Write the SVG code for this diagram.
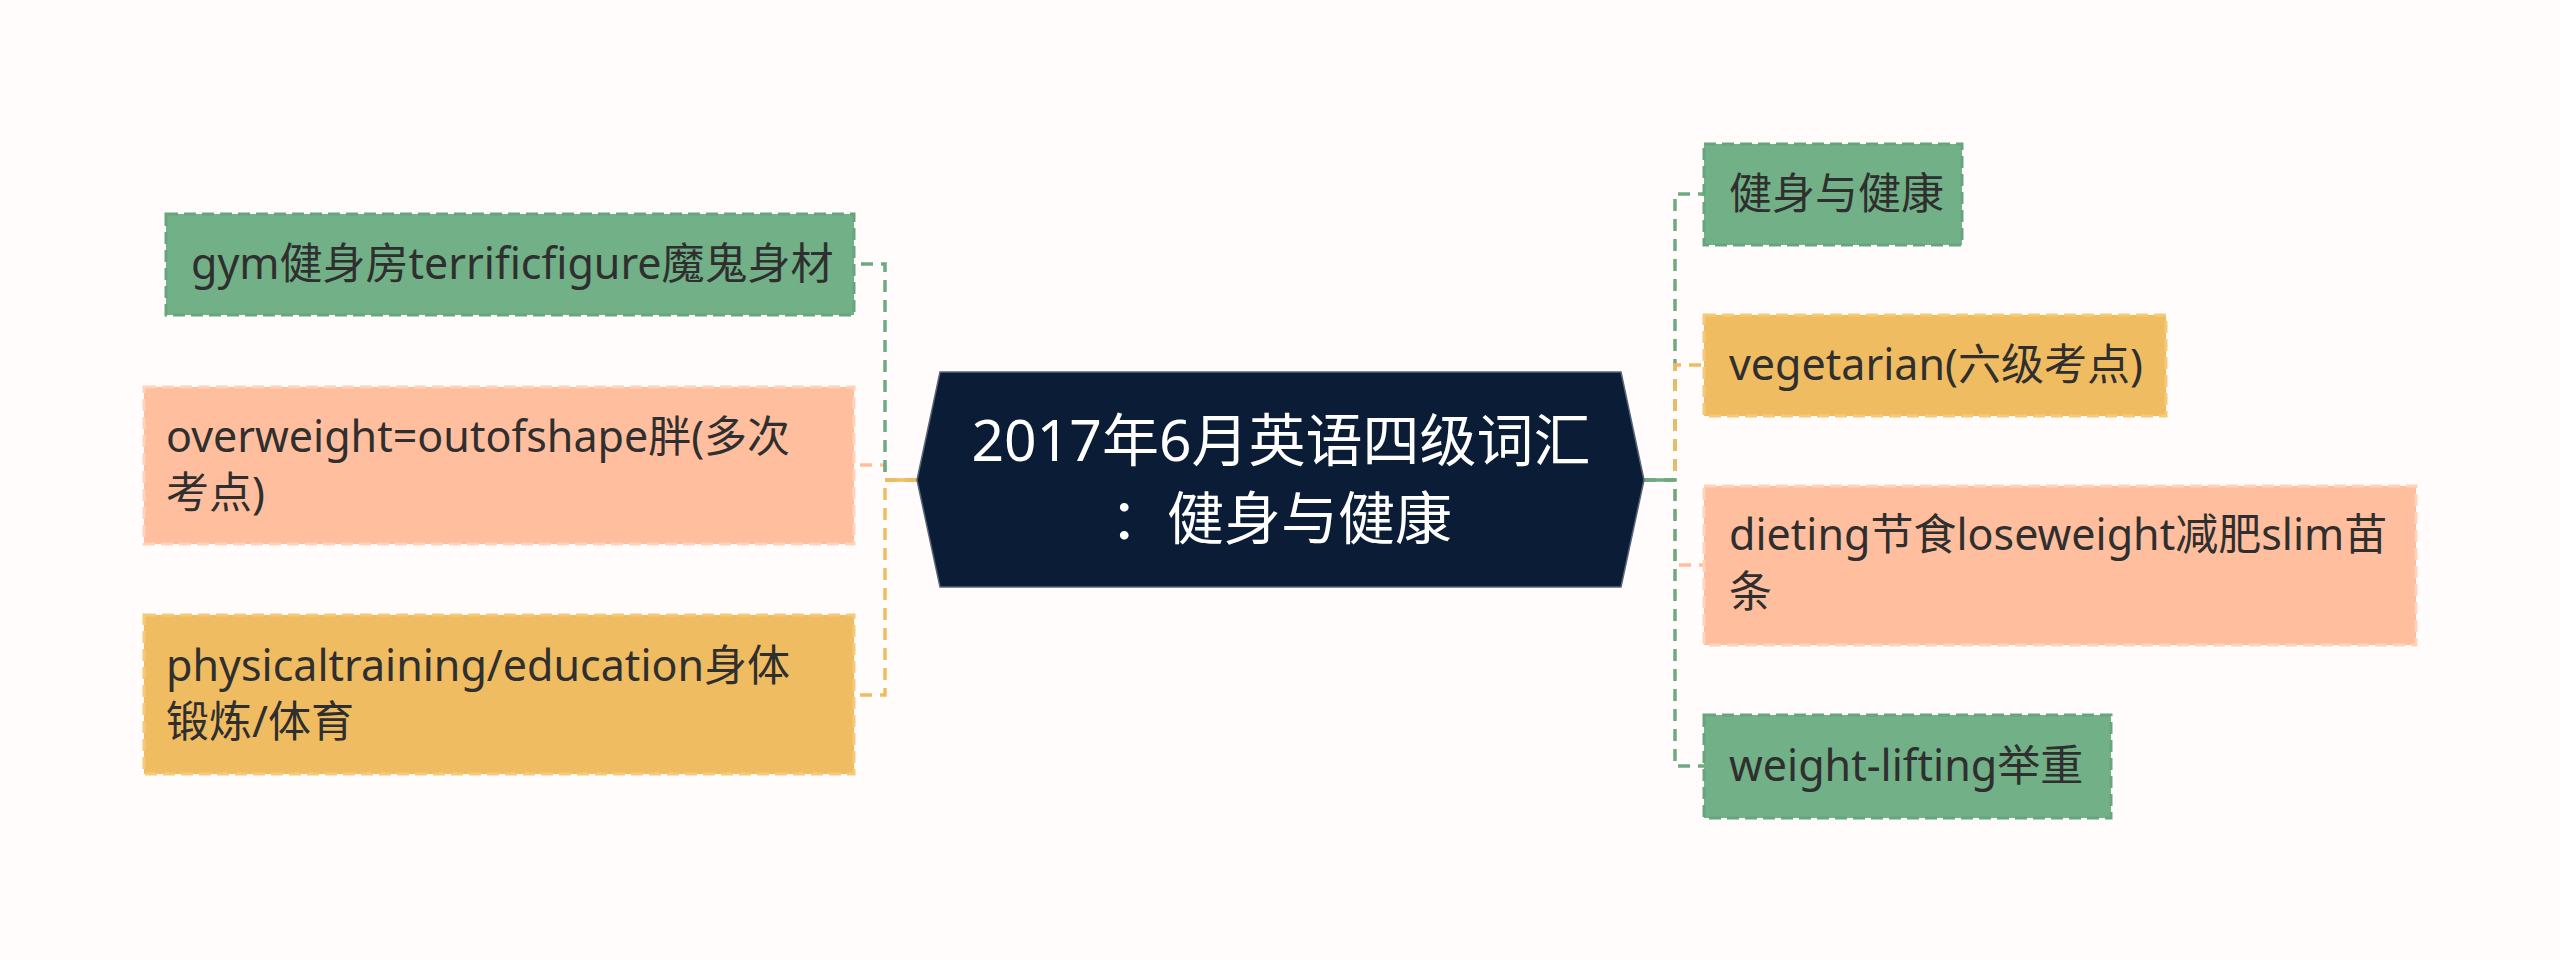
<svg xmlns="http://www.w3.org/2000/svg" width="2560" height="960" viewBox="0 0 2560 960">
<style>
.t{font-family:"Noto Sans","Noto Sans CJK SC",sans-serif;font-size:43px;fill:#2f2f2f}
.ct{font-family:"Noto Sans","Noto Sans CJK SC",sans-serif;font-size:57px;fill:#ffffff;text-anchor:middle}
.g{fill:#72B087;stroke:#67A57C;stroke-width:3;stroke-dasharray:12 6}
.s{fill:#FFBF9E;stroke:#FFD2BA;stroke-width:3;stroke-dasharray:12 6}
.o{fill:#F0BC62;stroke:#F5C979;stroke-width:3;stroke-dasharray:12 6}
.c{fill:none;stroke-width:3.5;stroke-dasharray:12 8}
.cg{stroke:#6DAA82}.cs{stroke:#FFBF9E}.co{stroke:#F0BC62}
</style>
<rect x="0" y="0" width="2560" height="960" fill="#FFFCFB"/>
<g id="connectors">
<path class="c cs" d="M917,480 H885 V465 H854"/>
<path class="c cg" d="M917,480 H885 V264 H854"/>
<path class="c co" d="M917,480 H885 V695 H854"/>
<line x1="917" y1="480" x2="885" y2="480" stroke="#F0BC62" stroke-width="3.5"/>
<path class="c cg" d="M1644,480 H1675 V194 H1704"/>
<path class="c co" d="M1644,480 H1675 V365 H1704"/>
<path class="c cs" d="M1644,480 H1675 V565 H1704"/>
<path class="c cg" d="M1644,480 H1675 V766 H1704"/>
<line x1="1644" y1="480" x2="1675" y2="480" stroke="#6DAA82" stroke-width="3.5"/>
</g>
<g id="center">
<polygon points="940,372 1621,372 1644,480 1621,587 940,587 917,480" fill="#0B1D36" stroke="#5a6577" stroke-width="1.5"/>
<text class="ct" x="1281" y="461">2017年6月英语四级词汇</text>
<text class="ct" x="1281" y="539">：健身与健康</text>
</g>
<g id="node-l1">
<rect class="g" x="166" y="214" width="688" height="101"/>
<text class="t" x="191" y="279">gym健身房terrificfigure魔鬼身材</text>
</g>
<g id="node-l2">
<rect class="s" x="144" y="387" width="710" height="157"/>
<text class="t" x="166" y="452">overweight=outofshape胖(多次</text>
<text class="t" x="166" y="508">考点)</text>
</g>
<g id="node-l3">
<rect class="o" x="144" y="615" width="710" height="159"/>
<text class="t" x="166" y="681">physicaltraining/education身体</text>
<text class="t" x="166" y="737">锻炼/体育</text>
</g>
<g id="node-r1">
<rect class="g" x="1704" y="144" width="258" height="101"/>
<text class="t" x="1729" y="209">健身与健康</text>
</g>
<g id="node-r2">
<rect class="o" x="1704" y="315" width="462" height="101"/>
<text class="t" x="1729" y="380">vegetarian(六级考点)</text>
</g>
<g id="node-r3">
<rect class="s" x="1704" y="486" width="712" height="159"/>
<text class="t" x="1729" y="550">dieting节食loseweight减肥slim苗</text>
<text class="t" x="1729" y="607">条</text>
</g>
<g id="node-r4">
<rect class="g" x="1704" y="715" width="407" height="103"/>
<text class="t" x="1729" y="781">weight-lifting举重</text>
</g>
</svg>
